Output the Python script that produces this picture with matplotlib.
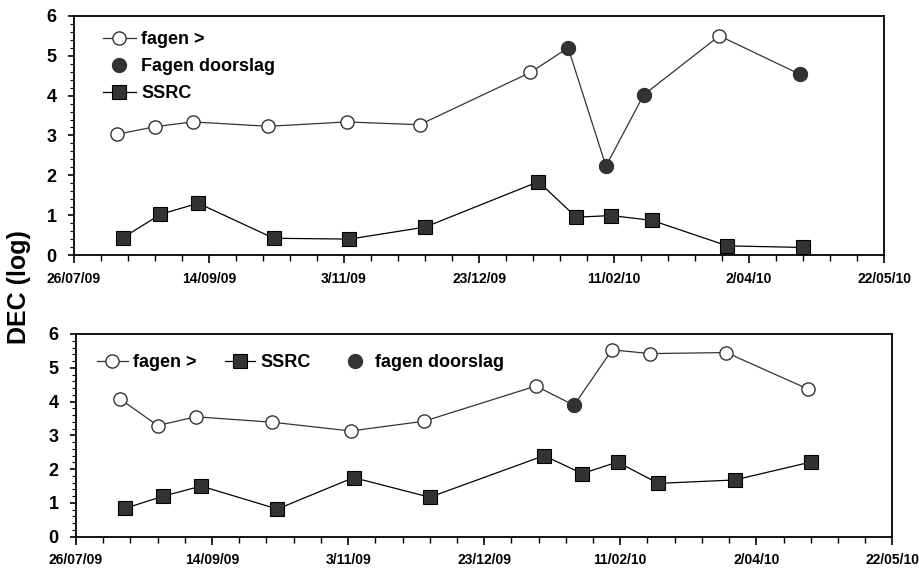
import matplotlib
matplotlib.use("Agg")
import matplotlib.pyplot as plt
import matplotlib.dates as mdates
from matplotlib.ticker import FixedLocator, FuncFormatter, MultipleLocator
import pandas as pd

plt.rcParams['font.family'] = ['Liberation Sans', 'DejaVu Sans']
plt.rcParams['font.weight'] = 'bold'

# sample dates
fagen_dates = ["2009-08-11", "2009-08-25", "2009-09-08", "2009-10-06", "2009-11-04", "2009-12-01",
               "2010-01-11", "2010-01-25", "2010-02-08", "2010-02-22", "2010-03-22", "2010-04-21"]
ssrc_dates = ["2009-08-13", "2009-08-27", "2009-09-10", "2009-10-08", "2009-11-05", "2009-12-03",
              "2010-01-14", "2010-01-28", "2010-02-10", "2010-02-25", "2010-03-25", "2010-04-22"]

# top panel
fagen_top = [3.03, 3.22, 3.34, 3.23, 3.34, 3.27, 4.58, 5.20, 2.23, 4.02, 5.50, 4.53]
doorslag_top = [False, False, False, False, False, False, False, True, True, True, False, True]
ssrc_top = [0.43, 1.02, 1.30, 0.42, 0.40, 0.70, 1.84, 0.95, 0.99, 0.87, 0.23, 0.19]

# bottom panel
fagen_bot = [4.09, 3.29, 3.55, 3.39, 3.13, 3.42, 4.46, 3.89, 5.53, 5.42, 5.45, 4.37]
doorslag_bot = [False, False, False, False, False, False, False, True, False, False, False, False]
ssrc_bot = [0.84, 1.20, 1.50, 0.82, 1.75, 1.17, 2.40, 1.87, 2.21, 1.58, 1.68, 2.21]

x_start, x_end = "2009-07-26", "2010-05-22"

fd = pd.to_datetime(fagen_dates)
sd = pd.to_datetime(ssrc_dates)
dark = "#333333"

fig = plt.figure(figsize=(9.19, 5.68), dpi=100)
ax1 = fig.add_axes([0.0805, 0.551, 0.8815, 0.421])
ax2 = fig.add_axes([0.0827, 0.055, 0.8883, 0.357])


def draw(ax, fagen, door, ssrc, door_label):
    ax.plot(fd, fagen, color=dark, lw=0.9, marker="o", ms=9.5, mfc="white",
            mec=dark, mew=1.0, label="fagen >", zorder=3)
    dx = [d for d, f in zip(fd, door) if f]
    dy = [v for v, f in zip(fagen, door) if f]
    ax.plot(dx, dy, ls="none", marker="o", ms=10, mfc=dark, mec=dark,
            label=door_label, zorder=4)
    ax.plot(sd, ssrc, color="black", lw=0.9, marker="s", ms=10, mfc=dark,
            mec="black", mew=0.8, label="SSRC", zorder=3)
    ax.set_ylim(0, 6)
    ax.set_xlim(pd.Timestamp(x_start), pd.Timestamp(x_end))
    majors = pd.date_range(x_start, x_end, freq="50D")
    minors = pd.date_range(x_start, x_end, freq="10D")
    ax.xaxis.set_major_locator(FixedLocator(mdates.date2num(majors)))
    ax.xaxis.set_minor_locator(FixedLocator(mdates.date2num(minors)))
    ax.xaxis.set_major_formatter(FuncFormatter(
        lambda v, p: (lambda d: f"{d.day}/{d:%m/%y}")(mdates.num2date(v))))
    ax.yaxis.set_major_locator(MultipleLocator(1))
    ax.yaxis.set_minor_locator(MultipleLocator(0.2))
    ax.tick_params(axis="x", which="major", labelsize=10, length=6, width=1.2, pad=6)
    ax.tick_params(axis="x", which="minor", length=4, width=1.0)
    ax.tick_params(axis="y", which="major", labelsize=13, length=4.5, width=1.2, pad=8)
    ax.tick_params(axis="y", which="minor", length=3, width=0.8)
    for s in ax.spines.values():
        s.set_linewidth(1.3)


draw(ax1, fagen_top, doorslag_top, ssrc_top, "Fagen doorslag")
ax1.legend(loc="upper left", bbox_to_anchor=(0.027, 0.965), borderaxespad=0,
           frameon=False, fontsize=13, handlelength=1.8, handletextpad=0.3,
           labelspacing=0.55)

draw(ax2, fagen_bot, doorslag_bot, ssrc_bot, "fagen doorslag")
hs, ls = ax2.get_legend_handles_labels()
order = [0, 2, 1]
ax2.legend([hs[i] for i in order], [ls[i] for i in order], loc="upper left",
           bbox_to_anchor=(0.017, 0.935), borderaxespad=0, ncol=3, frameon=False,
           fontsize=13, handlelength=1.7, handletextpad=0.3, columnspacing=1.55)

fig.text(0.021, 0.494, "DEC (log)", rotation=90, ha="center", va="center",
         fontsize=18, fontweight="bold")

fig.savefig("out.png", dpi=100)
